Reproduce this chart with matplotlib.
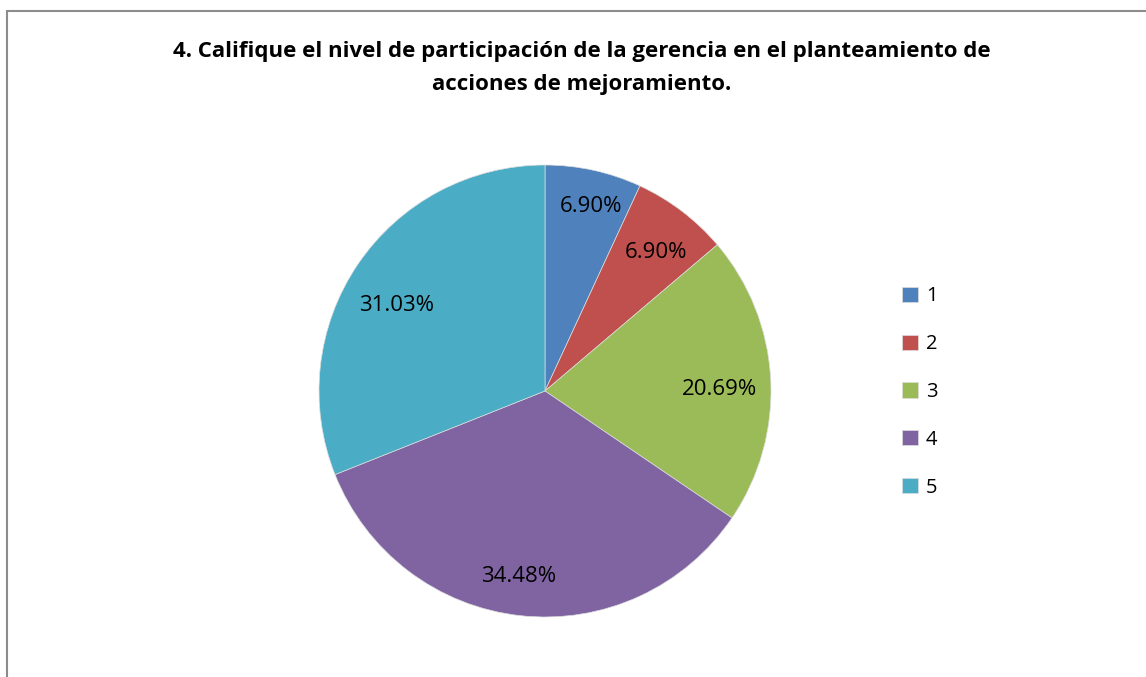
import matplotlib
matplotlib.use('Agg')
import matplotlib.pyplot as plt
from matplotlib.patches import Rectangle
import numpy as np

# survey answers, share of responses (%)
categorias = ['1', '2', '3', '4', '5']
porcentajes = [6.90, 6.90, 20.69, 34.48, 31.03]
colores = ['#4F81BD', '#C0504D', '#9BBB59', '#8064A2', '#4BACC6']
titulo = ('4. Califique el nivel de participación de la gerencia en el planteamiento de\n'
          'acciones de mejoramiento.')
# label placement tweaks: fraction of radius, degrees off the wedge middle
dist_etiqueta = [0.84, 0.785, 0.77, 0.83, 0.76]
giro_etiqueta = [-1.7, -1.45, -2.6, -1.8, 4.25]

plt.rcParams['font.family'] = ['Open Sans', 'DejaVu Sans']

W, H = 1146, 677
fig = plt.figure(figsize=(W / 100., H / 100.), dpi=100)

# chart area border (right and bottom edges fall outside the picture)
fig.patches.append(Rectangle((6.5 / W, -0.1), 1.2, (H - 10.5) / H + 0.1,
                             transform=fig.transFigure, fill=False,
                             edgecolor='#8c8c8c', linewidth=1.5))

fig.text(582 / W, 1 - 68 / H, titulo, ha='center', va='center',
         fontsize=16, fontweight='bold', linespacing=1.72)

cx, cy, r = 545, 391, 226
ax = fig.add_axes([(cx - r) / W, (H - cy - r) / H, 2 * r / W, 2 * r / H])
wedges, texts, autotexts = ax.pie(porcentajes, colors=colores, startangle=90,
                                  counterclock=False, autopct='%.2f%%',
                                  wedgeprops={'linewidth': 0.5, 'edgecolor': '#dddddd'},
                                  textprops={'fontsize': 16, 'color': 'black'})
for w, t, d, g in zip(wedges, autotexts, dist_etiqueta, giro_etiqueta):
    ang = np.deg2rad((w.theta1 + w.theta2) / 2. + g)
    t.set_position((d * np.cos(ang), d * np.sin(ang)))
ax.set_xlim(-1, 1)
ax.set_ylim(-1, 1)
ax.set_aspect('equal')

fig.legend(wedges, categorias, loc='center left',
           bbox_to_anchor=(884 / W, 1 - 392 / H), frameon=False,
           fontsize=14.5, handlelength=0.78, handleheight=0.78,
           handletextpad=0.4, labelspacing=1.38)

plt.savefig('out.png', dpi=100)
